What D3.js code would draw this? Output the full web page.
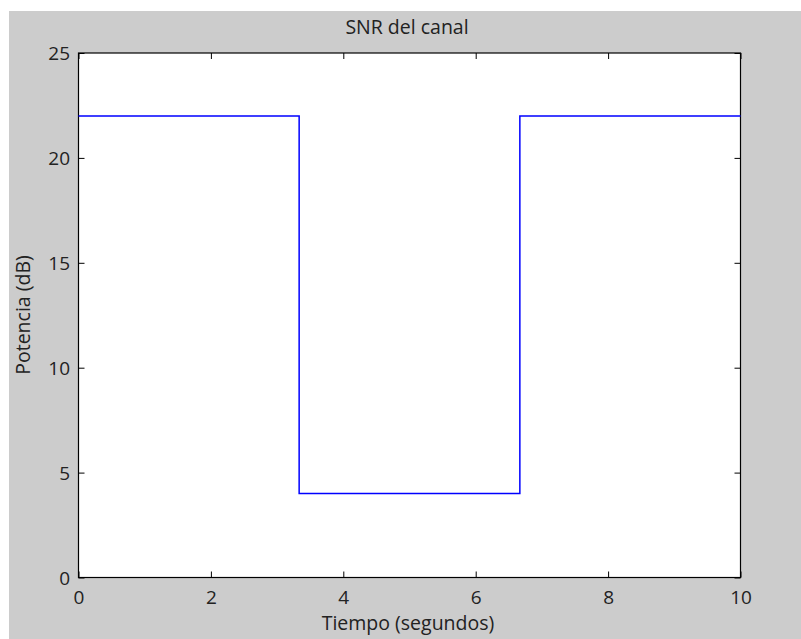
<!DOCTYPE html>
<html>
<head>
<meta charset="utf-8">
<script src="https://cdn.jsdelivr.net/npm/d3@7"></script>
<style>
  html, body { margin: 0; padding: 0; background: #ffffff; }
  svg { display: block; }
  text { font-family: "Open Sans", "Noto Sans", sans-serif; fill: #222; }
</style>
</head>
<body>
<svg id="chart" width="801" height="639"></svg>
<script>
// Channel SNR over time (step profile)
const timeSec = [0, 3.333, 6.667, 10];
const snrDb = [22, 4, 22, 22];
const xTicks = [0, 2, 4, 6, 8, 10];
const yTicks = [0, 5, 10, 15, 20, 25];

const svg = d3.select("#chart");
const W = 801, H = 639;
const plot = { left: 78.5, top: 53, right: 740.5, bottom: 577.5 };
const fontSize = 19;

// figure background
svg.append("rect").attr("x", 9).attr("y", 11).attr("width", W - 9).attr("height", H - 11).attr("fill", "#cccccc");
svg.append("rect").attr("x", plot.left).attr("y", plot.top)
  .attr("width", plot.right - plot.left).attr("height", plot.bottom - plot.top).attr("fill", "#ffffff");

const x = d3.scaleLinear().domain([0, 10]).range([plot.left, plot.right]);
const y = d3.scaleLinear().domain([0, 25]).range([plot.bottom, plot.top]);

const tickLen = 6;
// Axes on all four sides with inward ticks; labels only bottom and left
const gx = svg.append("g").attr("transform", `translate(0,${plot.bottom})`)
  .call(d3.axisBottom(x).tickValues(xTicks).tickSizeInner(-tickLen).tickSizeOuter(0).tickFormat(d3.format("d")));
const gxTop = svg.append("g").attr("transform", `translate(0,${plot.top})`)
  .call(d3.axisTop(x).tickValues(xTicks).tickSizeInner(-tickLen).tickSizeOuter(0).tickFormat(""));
const gy = svg.append("g").attr("transform", `translate(${plot.left},0)`)
  .call(d3.axisLeft(y).tickValues(yTicks).tickSizeInner(-tickLen).tickSizeOuter(0).tickFormat(d3.format("d")));
const gyRight = svg.append("g").attr("transform", `translate(${plot.right},0)`)
  .call(d3.axisRight(y).tickValues(yTicks).tickSizeInner(-tickLen).tickSizeOuter(0).tickFormat(""));

[gx, gxTop, gy, gyRight].forEach(g => {
  g.attr("font-size", fontSize).attr("font-family", "\"Open Sans\", \"Noto Sans\", sans-serif");
  g.select(".domain").remove();
  g.selectAll(".tick line").attr("stroke", "#000").attr("stroke-width", 1);
  g.selectAll("text").attr("fill", "#222");
});
gx.selectAll("text").attr("y", 604 - plot.bottom).attr("dy", 0);
gy.selectAll("text").attr("x", 70 - plot.left).attr("dy", "0.36em");

// plot box
svg.append("rect").attr("x", plot.left).attr("y", plot.top)
  .attr("width", plot.right - plot.left).attr("height", plot.bottom - plot.top)
  .attr("fill", "none").attr("stroke", "#000").attr("stroke-width", 1.2);

// SNR step line
const line = d3.line().x((d, i) => x(timeSec[i])).y((d) => y(d)).curve(d3.curveStepAfter);
svg.append("path").datum(snrDb).attr("d", line)
  .attr("fill", "none").attr("stroke", "#0000ff").attr("stroke-width", 1.5);

// titles
svg.append("text").attr("x", 407).attr("y", 34)
  .attr("text-anchor", "middle").attr("font-size", fontSize + 0.5).text("SNR del canal");
svg.append("text").attr("x", 408).attr("y", 630)
  .attr("text-anchor", "middle").attr("font-size", fontSize + 0.5).text("Tiempo (segundos)");
svg.append("text").attr("transform", `translate(30,315) rotate(-90)`)
  .attr("text-anchor", "middle").attr("font-size", fontSize + 0.5).text("Potencia (dB)");
</script>
</body>
</html>
